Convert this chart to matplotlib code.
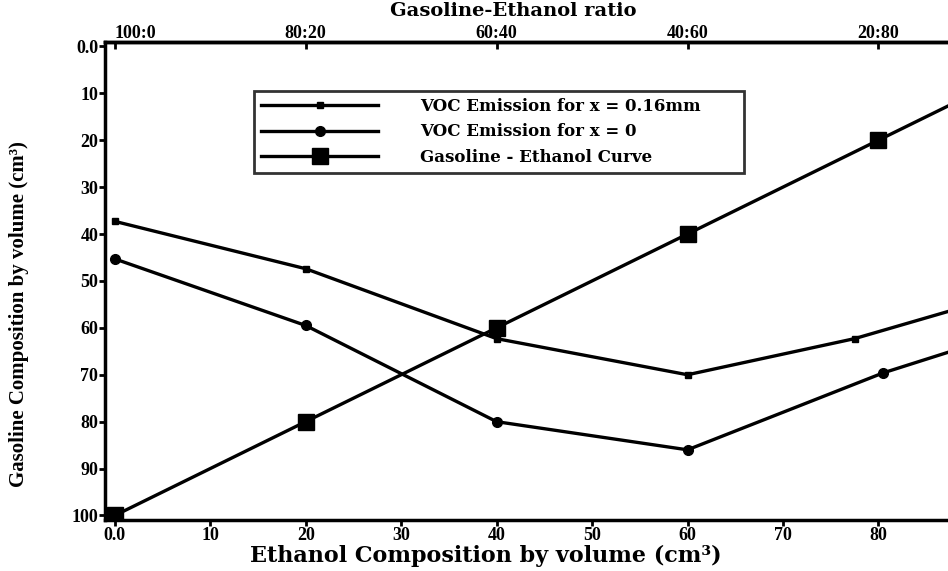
import matplotlib.pyplot as plt
import matplotlib as mpl

mpl.rcParams['font.family'] = ['Liberation Serif', 'DejaVu Serif']
mpl.rcParams['font.weight'] = 'bold'

# ethanol composition (cm3) and read-off values
ethanol_016 = [0, 20, 40, 60, 77.5, 100]
voc_016 = [37.3, 47.4, 62.3, 70, 62.3, 49]

ethanol_0 = [0, 20, 40, 60, 80.5, 100]
voc_0 = [45.3, 59.5, 80, 86, 69.6, 57]

ethanol_gas = [0, 20, 40, 60, 80, 100]
gasoline = [100, 80, 60, 40, 20, 0]

x_ticks = [0, 10, 20, 30, 40, 50, 60, 70, 80]
x_labels = ['0.0', '10', '20', '30', '40', '50', '60', '70', '80']
y_ticks = [0, 10, 20, 30, 40, 50, 60, 70, 80, 90, 100]
y_labels = ['0.0', '10', '20', '30', '40', '50', '60', '70', '80', '90', '100']
ratio_ticks = [0, 20, 40, 60, 80]
ratio_labels = ['100:0', '80:20', '60:40', '40:60', '20:80']

wide = ['DejaVu Serif']

fig = plt.figure(figsize=(9.48, 5.71), dpi=100)
ax = fig.add_axes([0.111, 0.089, 1.017, 0.838])

ax.plot(ethanol_016, voc_016, color='black', lw=2.4, marker='s', ms=5,
        label='VOC Emission for x = 0.16mm')
ax.plot(ethanol_0, voc_0, color='black', lw=2.4, marker='o', ms=7,
        label='VOC Emission for x = 0')
ax.plot(ethanol_gas, gasoline, color='black', lw=2.4, marker='s', ms=12,
        label='Gasoline - Ethanol Curve')

ax.set_xlim(-1, 100)
ax.set_ylim(101, -1)
for s in ['left', 'bottom', 'top']:
    ax.spines[s].set_linewidth(2.5)
ax.spines['right'].set_visible(False)

ax.set_xticks(x_ticks)
ax.set_xticklabels(x_labels, fontsize=13)
ax.set_yticks(y_ticks)
ax.set_yticklabels(y_labels, fontsize=13)
ax.tick_params(axis='both', width=2, length=4, direction='out', pad=1)

# axes run past the right edge, so place the axis titles in figure coords
fig.text(0.512, 0.027, 'Ethanol Composition by volume (cm³)', ha='center',
         va='center', fontsize=16, fontweight='bold', family=wide)
fig.text(0.02, 0.45, 'Gasoline Composition by volume (cm³)', ha='center',
         va='center', rotation=90, fontsize=15, fontweight='bold')

top = ax.secondary_xaxis('top')
top.set_xticks(ratio_ticks)
top.set_xticklabels(ratio_labels, fontsize=13)
top.tick_params(width=2, length=5, direction='in', pad=0)
top.get_xticklabels()[0].set_horizontalalignment('left')
top.spines['top'].set_linewidth(2.5)
fig.text(0.541, 0.98, 'Gasoline-Ethanol ratio', ha='center', va='center',
         fontsize=14, fontweight='bold', family=wide)

leg = ax.legend(loc='upper left', bbox_to_anchor=(0.259, 0.705, 0.535, 0.151),
                bbox_transform=fig.transFigure, mode='expand', frameon=True,
                fancybox=False, edgecolor='black',
                prop={'family': wide, 'size': 12, 'weight': 'bold'},
                handlelength=7, borderpad=0.45, labelspacing=0.5,
                handletextpad=2.5)
leg.get_frame().set_linewidth(2)

fig.savefig('out.png', dpi=100)
